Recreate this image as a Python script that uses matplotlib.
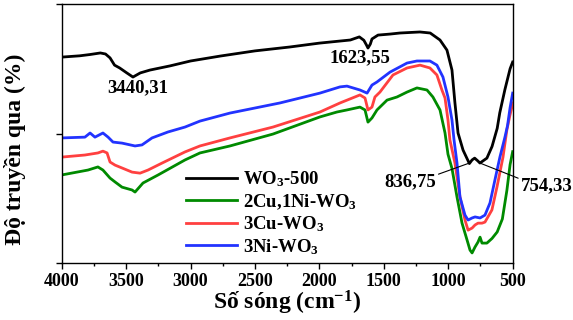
"""FTIR spectra of WO3 based samples."""

import matplotlib
matplotlib.use('Agg')
import numpy as np
from matplotlib import pyplot as plt

# wavenumber (cm-1) / transmittance (a.u.)
wo3_w = [4000, 3860, 3780, 3700, 3660, 3625, 3590, 3550, 3495, 3447, 3390, 3315,
         3160, 3000, 2770, 2500, 2230, 2000, 1760, 1690, 1655, 1635, 1623, 1605,
         1592, 1545, 1450, 1375, 1220, 1140, 1064, 1010, 971, 948, 924, 885, 836,
         815, 795, 770, 754, 700, 660, 620, 600, 560, 520, 500]
wo3_t = [79.5, 80.0, 80.5, 81.1, 80.7, 79.2, 76.4, 75.3, 73.4, 71.8, 73.4, 74.5,
         76.1, 78.0, 79.9, 81.9, 83.4, 84.9, 86.1, 87.3, 86.0, 84.2, 83.0, 84.5,
         86.5, 88.0, 88.4, 88.8, 89.2, 88.8, 86.1, 82.2, 74.5, 61.8, 50.2, 43.6, 38.4,
         39.8, 40.5, 39.4, 38.6, 40.5, 45.0, 52.0, 58.0, 67.0, 75.0, 77.6]

cuni_w = [4000, 3796, 3719, 3680, 3625, 3586, 3532, 3454, 3431, 3369, 3252, 3043,
          2927, 2694, 2360, 1996, 1864, 1786, 1685, 1646, 1623, 1592, 1553, 1475,
          1398, 1320, 1243, 1165, 1119, 1064, 1025, 1002, 971, 932, 893, 854, 831,
          815, 792, 769, 753, 738, 700, 660, 620, 580, 545, 520, 500]
cuni_t = [34.0, 35.9, 37.1, 35.9, 32.8, 31.3, 29.3, 28.2, 27.4, 30.9, 34.0, 39.8,
          42.5, 45.2, 49.8, 56.4, 58.3, 59.1, 60.2, 59.1, 54.4, 56.0, 59.1, 62.9,
          64.1, 66.0, 67.6, 66.8, 64.1, 59.1, 50.2, 42.0, 36.5, 25.5, 15.4, 8.9, 5.0,
          3.9, 6.2, 8.1, 10.0, 7.7, 7.7, 9.5, 12.0, 17.0, 28.0, 38.0, 43.0]

cu_w = [4000, 3820, 3719, 3680, 3648, 3625, 3586, 3532, 3454, 3392, 3330, 3221,
        3043, 2927, 2694, 2360, 1996, 1840, 1685, 1646, 1623, 1592, 1569, 1530,
        1429, 1320, 1219, 1142, 1088, 1049, 1025, 1002, 987, 948, 909, 870, 846,
        815, 792, 769, 738, 715, 661, 622, 575, 545, 521, 498]
cu_t = [40.9, 41.7, 42.5, 43.2, 42.5, 39.0, 37.8, 36.7, 35.1, 34.7, 35.9, 38.6,
        42.9, 45.2, 48.3, 52.5, 58.3, 61.8, 64.9, 63.7, 59.1, 60.2, 64.1, 66.0,
        72.6, 75.3, 76.4, 75.3, 72.6, 66.8, 63.7, 55.2, 47.5, 38.6, 25.5, 16.6, 12.7,
        13.5, 14.7, 15.4, 15.4, 15.8, 20.5, 29.3, 40.9, 51.4, 57.1, 61.8]

ni_w = [4000, 3820, 3780, 3742, 3680, 3640, 3602, 3532, 3431, 3377, 3299, 3175,
        3043, 2927, 2694, 2306, 1996, 1840, 1786, 1685, 1630, 1592, 1553, 1452,
        1320, 1243, 1142, 1088, 1041, 1002, 971, 955, 932, 909, 870, 846, 815,
        792, 753, 715, 676, 638, 599, 560, 540, 520, 500]
ni_t = [48.3, 48.6, 50.2, 48.6, 50.2, 48.6, 46.7, 46.3, 45.2, 45.6, 48.3, 50.6,
        52.5, 54.8, 57.9, 61.8, 65.6, 68.0, 68.3, 66.8, 65.6, 68.7, 69.9, 73.7,
        77.2, 78.0, 78.0, 76.4, 71.8, 64.1, 55.2, 47.5, 38.6, 25.5, 18.5, 16.6, 17.4,
        17.8, 17.4, 18.5, 23.2, 32.0, 40.9, 48.6, 53.0, 60.0, 65.6]

labels = [r'WO$_3$-500', r'2Cu,1Ni-WO$_3$', r'3Cu-WO$_3$', r'3Ni-WO$_3$']
colors = ['black', '#008a00', '#ff4040', '#2233ff']

plt.rcParams['font.family'] = ['Liberation Serif']
plt.rcParams['font.weight'] = 'bold'
plt.rcParams['mathtext.fontset'] = 'custom'
plt.rcParams['mathtext.rm'] = 'Liberation Serif:bold'
plt.rcParams['mathtext.bf'] = 'Liberation Serif:bold'
plt.rcParams['mathtext.default'] = 'bf'

fig = plt.figure(figsize=(5.73, 3.2), dpi=100)
ax = fig.add_axes([0.1077, 0.178, 0.787, 0.8095])

series = [(wo3_w, wo3_t), (cuni_w, cuni_t), (cu_w, cu_t), (ni_w, ni_t)]
for (w, t), lab, c in zip(series, labels, colors):
    ax.plot(w, t, color=c, lw=2, label=lab)

ax.set_xlim(4000, 500)
ax.set_ylim(0, 100)
ax.set_xticks(np.arange(4000, 499, -500))
ax.set_xticks(np.arange(3750, 500, -500), minor=True)
ax.set_yticks([0, 50, 100])
ax.set_yticklabels([])
ax.tick_params(axis='x', which='major', direction='out', length=4, width=1,
               labelsize=13, pad=3)
ax.tick_params(axis='x', which='minor', direction='out', length=2.5, width=1)
ax.tick_params(axis='y', direction='out', length=4, width=1)
for lab in ax.get_xticklabels():
    lab.set_fontweight('bold')
for sp in ax.spines.values():
    sp.set_linewidth(1)

ax.set_xlabel('Số sóng (cm$^{-1}$)', fontsize=17, fontweight='bold')
ax.xaxis.set_label_coords(0.5, -0.1)
ax.set_ylabel('Độ truyền qua (%)', fontsize=17, fontweight='bold')
ax.yaxis.set_label_coords(-0.08, 0.44)

ax.text(3408, 67.6, '3440,31', ha='center', va='center', fontsize=13.5,
        fontweight='bold')
ax.text(1685, 79.2, '1623,55', ha='center', va='center', fontsize=13.5,
        fontweight='bold')
ax.annotate('836,75', xy=(836, 38.6), xytext=(1298, 31.3), ha='center',
            va='center', fontsize=13.5, fontweight='bold',
            arrowprops=dict(arrowstyle='-', lw=0.8, color='black',
                            shrinkA=0, shrinkB=0, relpos=(1, 0.9)))
ax.annotate('754,33', xy=(754, 38.6), xytext=(235, 29.7), ha='center',
            va='center', fontsize=13.5, fontweight='bold', annotation_clip=False,
            arrowprops=dict(arrowstyle='-', lw=0.8, color='black',
                            shrinkA=0, shrinkB=0, relpos=(0, 0.9)))

ax.legend(loc='upper left', bbox_to_anchor=(0.26, 0.39), frameon=False,
          fontsize=13.5, handlelength=2.7, labelspacing=0.15,
          handletextpad=0.32, borderaxespad=0)

fig.savefig('out.png', dpi=100)
